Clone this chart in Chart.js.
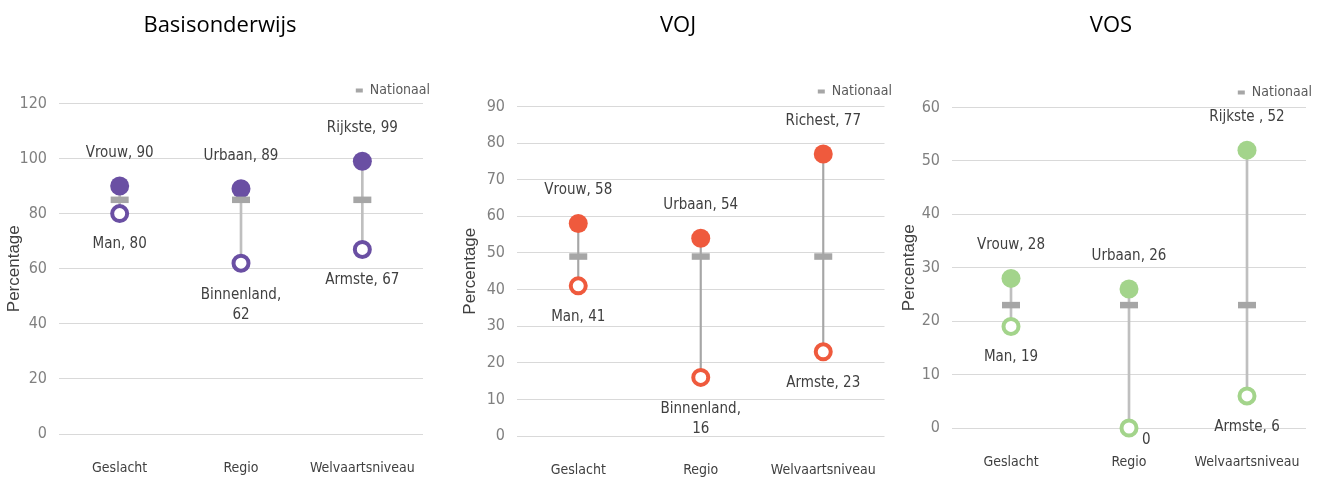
<!DOCTYPE html>
<html>
<head>
<meta charset="utf-8">
<script src="https://cdn.jsdelivr.net/npm/chart.js@4/dist/chart.umd.min.js"></script>
<style>
  body { margin: 0; background: #fff; width: 1327px; height: 480px; position: relative; overflow: hidden; }
  .panel { position: absolute; top: 0; height: 480px; }
</style>
</head>
<body>
<div class="panel" style="left:0;width:440px"><canvas id="basis"></canvas></div>
<div class="panel" style="left:450px;width:450px"><canvas id="voj"></canvas></div>
<div class="panel" style="left:895px;width:432px"><canvas id="vos"></canvas></div>
<script>
// Categories shared by all three panels
const categories = ["Geslacht", "Regio", "Welvaartsniveau"];

// Basisonderwijs
const basisHighNames = ["Vrouw", "Urbaan", "Rijkste"];
const basisHigh = [90, 89, 99];
const basisLowNames = ["Man", "Binnenland", "Armste"];
const basisLow = [80, 62, 67];
const basisNational = [85, 85, 85];

// VOJ
const vojHighNames = ["Vrouw", "Urbaan", "Richest"];
const vojHigh = [58, 54, 77];
const vojLowNames = ["Man", "Binnenland", "Armste"];
const vojLow = [41, 16, 23];
const vojNational = [49, 49, 49];

// VOS
const vosHighNames = ["Vrouw", "Urbaan", "Rijkste "];
const vosHigh = [28, 26, 52];
const vosLowNames = ["Man", "", "Armste"];
const vosLow = [19, 0, 6];
const vosNational = [23, 23, 23];

const NARROW = "'DejaVu Sans Condensed', 'Liberation Sans Narrow', sans-serif";
const GREY = "#A6A6A6";

// Draws "name, value" next to the high (above) and low (below) markers
const pointLabels = {
  id: "pointLabels",
  afterDatasetsDraw(chart) {
    const ctx = chart.ctx;
    ctx.save();
    ctx.font = "15px " + NARROW;
    ctx.fillStyle = "#404040";
    ctx.textBaseline = "middle";
    chart.data.datasets.forEach((ds, di) => {
      if (!ds.names) return;
      const meta = chart.getDatasetMeta(di);
      meta.data.forEach((pt, i) => {
        const name = ds.names[i];
        const value = ds.data[i];
        if (name === "") {
          // no name: just the value, bottom right of the marker
          ctx.textAlign = "left";
          ctx.fillText(String(value), pt.x + 13, pt.y + 12);
          return;
        }
        ctx.textAlign = "center";
        const text = name + ", " + value;
        if (ds.labelSide === "above") {
          ctx.fillText(text, pt.x, pt.y - 33);
        } else if (ctx.measureText(text).width > 78) {
          ctx.fillText(name + ",", pt.x, pt.y + 32);
          ctx.fillText(String(value), pt.x, pt.y + 52);
        } else {
          ctx.fillText(text, pt.x, pt.y + 31);
        }
      });
    });
    ctx.restore();
  }
};

function buildChart(id, cfg) {
  const ranges = categories.map((c, i) => [
    Math.min(cfg.high[i], cfg.low[i]),
    Math.max(cfg.high[i], cfg.low[i])
  ]);
  return new Chart(document.getElementById(id), {
    type: "bar",
    data: {
      labels: categories,
      datasets: [
        {
          type: "line", label: "Nationaal", data: cfg.national, showLine: false,
          pointStyle: "line", pointRadius: 9, pointBorderWidth: 6.5,
          borderColor: GREY, backgroundColor: GREY, borderWidth: 0, clip: false, order: 0
        },
        {
          type: "line", label: "Hoog", data: cfg.high, names: cfg.highNames, labelSide: "above",
          showLine: false, pointRadius: 9.5, pointBorderWidth: 0,
          pointBackgroundColor: cfg.color, pointBorderColor: cfg.color, clip: false, order: 1
        },
        {
          type: "line", label: "Laag", data: cfg.low, names: cfg.lowNames, labelSide: "below",
          showLine: false, pointRadius: 7.5, pointBorderWidth: 4,
          pointBackgroundColor: "#ffffff", pointBorderColor: cfg.color, clip: false, order: 1
        },
        {
          type: "bar", label: "Bereik", data: ranges, backgroundColor: cfg.lineColor,
          barThickness: cfg.lineWidth, borderWidth: 0, order: 2
        }
      ]
    },
    options: {
      responsive: true,
      maintainAspectRatio: false,
      animation: false,
      layout: { padding: { left: cfg.padLeft, right: 0, top: 0, bottom: 0 } },
      plugins: {
        tooltip: { enabled: false },
        title: {
          display: true,
          text: cfg.title,
          color: "#000000",
          font: { family: "'Open Sans', Lato, sans-serif", size: 22, weight: "normal" },
          padding: { top: 13, bottom: cfg.titleGap }
        },
        legend: {
          display: true,
          position: "top",
          align: "end",
          maxHeight: cfg.legendHeight,
          labels: {
            filter: item => item.text === "Nationaal",
            boxWidth: 7,
            boxHeight: 4,
            padding: cfg.legendPad,
            color: "#595959",
            font: { family: NARROW, size: 14 }
          }
        }
      },
      scales: {
        x: {
          grid: { display: true, drawOnChartArea: false, drawTicks: true, tickLength: 23, tickColor: "rgba(0,0,0,0)" },
          border: { display: false },
          ticks: { color: "#404040", font: { family: NARROW, size: 14 }, padding: 3, maxRotation: 0 },
          afterFit: s => { s.height = cfg.xHeight; }
        },
        y: {
          min: 0,
          max: cfg.max,
          grid: { color: "#D9D9D9", lineWidth: 1, drawTicks: false },
          border: { display: false },
          ticks: { stepSize: cfg.step, color: "#808080", font: { family: NARROW, size: 16 }, padding: 12 },
          title: {
            display: true, text: "Percentage", color: "#404040",
            font: { family: "'Liberation Sans', sans-serif", size: 17 }
          },
          afterFit: s => { s.width = cfg.yWidth; }
        },
        spacer: {
          position: "right",
          display: true,
          grid: { display: false },
          border: { display: false },
          ticks: { display: false },
          afterFit: s => { s.width = cfg.padRight; }
        }
      }
    },
    plugins: [pointLabels]
  });
}

buildChart("basis", {
  title: "Basisonderwijs", highNames: basisHighNames, high: basisHigh,
  lowNames: basisLowNames, low: basisLow, national: basisNational,
  color: "#6A4FA3", lineColor: "#BFBFBF", lineWidth: 2, max: 120, step: 20,
  padLeft: 0, padRight: 17, yWidth: 59, titleGap: 34, legendPad: 10, legendHeight: 30, xHeight: 46
});

buildChart("voj", {
  title: "VOJ", highNames: vojHighNames, high: vojHigh,
  lowNames: vojLowNames, low: vojLow, national: vojNational,
  color: "#EF5A3D", lineColor: "#A6A6A6", lineWidth: 1.5, max: 90, step: 10,
  padLeft: 6, padRight: 13, yWidth: 61, titleGap: 37, legendPad: 8, legendHeight: 30, xHeight: 44
});

buildChart("vos", {
  title: "VOS", highNames: vosHighNames, high: vosHigh,
  lowNames: vosLowNames, low: vosLow, national: vosNational,
  color: "#A3D48B", lineColor: "#BFBFBF", lineWidth: 2, max: 60, step: 10,
  padLeft: 0, padRight: 21, yWidth: 57, titleGap: 31, legendPad: 15, legendHeight: 37, xHeight: 52
});
</script>
</body>
</html>
